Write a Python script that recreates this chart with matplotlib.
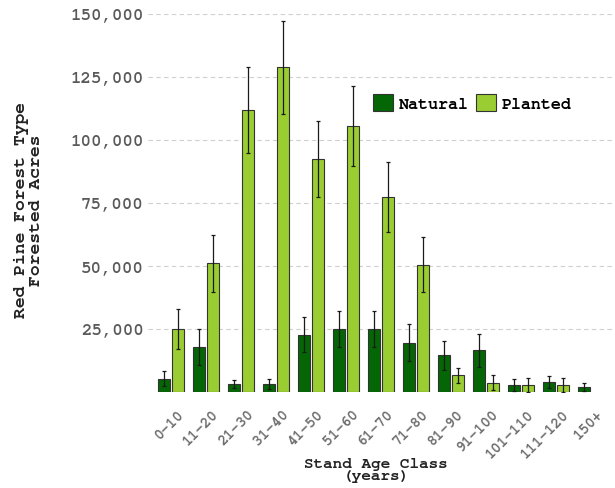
import matplotlib
matplotlib.use("Agg")
import matplotlib.pyplot as plt
import matplotlib.transforms as mtransforms
from matplotlib.patches import Patch
from matplotlib import font_manager
import numpy as np

categories = ['0-10', '11-20', '21-30', '31-40', '41-50', '51-60', '61-70',
              '71-80', '81-90', '91-100', '101-110', '111-120', '150+']
natural = [5200, 17900, 3200, 3200, 22700, 25000, 25000, 19600, 14500, 16500, 2800, 4000, 2000]
natural_err = [3000, 7000, 1600, 2000, 7000, 7300, 7300, 7300, 5700, 6700, 2400, 2400, 1600]
planted = [25000, 51000, 112000, 128800, 92400, 105500, 77300, 50500, 6700, 3600, 2800, 2800, 0]
planted_err = [8000, 11500, 17000, 18500, 15000, 16000, 14000, 11000, 3000, 3000, 2800, 2800, 0]
yticks = [25000, 50000, 75000, 100000, 125000, 150000]
series_names = ['Natural', 'Planted']

C_NAT = '#056605'
C_PLA = '#9acd32'
EDGE = '#333333'

available = {f.name for f in font_manager.fontManager.ttflist}
FONT = 'Liberation Mono'
for cand in ['Courier New', 'Nimbus Mono PS', 'Nimbus Mono L', 'FreeMono', 'Courier Prime',
             'Liberation Mono']:
    if cand in available:
        FONT = cand
        break

fig = plt.figure(figsize=(6.15, 4.89), dpi=100)
ax = fig.add_axes([148/615, 1 - 393/489, (612-148)/615, (393-15)/489])

x = np.arange(len(categories))
bw = 0.33
off = 0.2
nat = np.array(natural, float)
pla = np.array(planted, float)
nerr = np.array(natural_err, float)
perr = np.array(planted_err, float)
pm = pla > 0

ax.bar(x - off, nat, width=bw, color=C_NAT, edgecolor=EDGE, linewidth=0.8, zorder=3)
ax.bar(x[pm] + off, pla[pm], width=bw, color=C_PLA, edgecolor=EDGE, linewidth=0.8, zorder=3)
ax.errorbar(x - off, nat, yerr=nerr, fmt='none', ecolor='#1a1a1a', elinewidth=0.9,
            capsize=1.5, capthick=0.9, zorder=4)
ax.errorbar(x[pm] + off, pla[pm], yerr=perr[pm], fmt='none', ecolor='#1a1a1a', elinewidth=0.9,
            capsize=1.5, capthick=0.9, zorder=4)

ax.set_xlim(-0.66, 12.6)
ax.set_ylim(0, 150000)
ax.set_yticks(yticks)
ax.set_yticklabels([f"{v:,}" for v in yticks], fontfamily=FONT, fontweight='bold',
                   fontsize=12.5, color='#5a5a5a')
ax.yaxis.grid(True, color='#cfcfcf', linestyle=(0, (4, 3)), linewidth=0.8, zorder=0)
ax.set_axisbelow(True)
for s in ax.spines.values():
    s.set_visible(False)
ax.tick_params(axis='both', length=0)
ax.tick_params(axis='y', pad=3)

ax.set_xticks(x)
ax.set_xticklabels(categories, rotation=45, ha='right', va='top', rotation_mode='anchor',
                   fontfamily=FONT, fontweight='bold', fontsize=10.5, color='#6e6e6e')
shift = mtransforms.ScaledTranslation(6/100, -10/100, fig.dpi_scale_trans)
for lab in ax.get_xticklabels():
    lab.set_transform(lab.get_transform() + shift)

fig.text(376/615, 1 - 458/489, 'Stand Age Class\n(years)', ha='center', va='top',
         fontfamily=FONT, fontweight='bold', fontsize=11.5, color='#222222', linespacing=0.95)
fig.text(29/615, 1 - 210/489, 'Red Pine Forest Type\nForested Acres', ha='center', va='center',
         rotation=90, fontfamily=FONT, fontweight='bold', fontsize=13, color='#222222',
         linespacing=0.95, multialignment='center')

handles = [Patch(facecolor=C_NAT, edgecolor=EDGE, linewidth=0.8),
           Patch(facecolor=C_PLA, edgecolor=EDGE, linewidth=0.8)]
fig.legend(handles, series_names, loc='upper left', bbox_to_anchor=(373/615, 1 - 95/489),
           ncol=2, frameon=False, borderpad=0, borderaxespad=0, handlelength=1.2,
           handleheight=1.15, handletextpad=0.35, columnspacing=0.45,
           prop={'family': FONT, 'weight': 'bold', 'size': 12})

fig.savefig('out.png', dpi=100, facecolor='white')
